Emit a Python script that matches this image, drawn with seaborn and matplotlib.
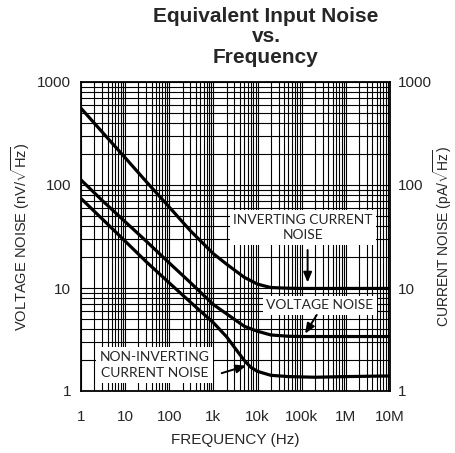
import matplotlib
matplotlib.use("Agg")
import matplotlib.pyplot as plt
from matplotlib.ticker import LogLocator, FixedLocator, NullFormatter
import seaborn as sns
import pandas as pd

# Datos
freq_inv = [1, 3, 10, 30, 100, 300, 1000, 2000, 5000, 10000, 20000, 50000, 1e5, 1e6, 1e7]
ruido_inv = [556, 328, 184, 108, 61, 36, 21.5, 17, 12.7, 10.9, 10.1, 9.95, 9.9, 9.9, 9.9]

freq_volt = [1, 3, 10, 30, 100, 300, 1000, 2000, 5000, 10000, 20000, 50000, 1e5, 1e6, 1e7]
ruido_volt = [112, 71, 44, 28.5, 17.5, 11.3, 6.9, 5.6, 4.25, 3.8, 3.5, 3.4, 3.38, 3.38, 3.38]

freq_noinv = [1, 3, 10, 30, 100, 300, 1000, 2000, 3000, 5000, 7000, 10000, 20000, 50000, 1e5, 2e5, 1e6, 1e7]
ruido_noinv = [74, 47, 28.5, 18, 11.2, 7.3, 4.6, 3.35, 2.65, 1.98, 1.7, 1.55, 1.42, 1.38, 1.37, 1.36, 1.38, 1.40]

xticks = [1, 10, 100, 1e3, 1e4, 1e5, 1e6, 1e7]
xticklabels = ['1', '10', '100', '1k', '10k', '100k', '1M', '10M']
yticks = [1, 10, 100, 1000]
yticklabels = ['1', '10', '100', '1000']

sns.set_style('white')
plt.rcParams['font.family'] = ['Liberation Sans', 'DejaVu Sans']
plt.rcParams['mathtext.fontset'] = 'custom'
plt.rcParams['mathtext.rm'] = 'Liberation Sans'

fig = plt.figure(figsize=(4.56, 4.53), dpi=100)
ax = fig.add_axes([81/456, 1 - 391/453, 309/456, 309/453])
ax.set_xscale('log')
ax.set_yscale('log')

curvas = [(freq_inv, ruido_inv), (freq_volt, ruido_volt), (freq_noinv, ruido_noinv)]
for f, r in curvas:
    df = pd.DataFrame({'f': f, 'r': r})
    sns.lineplot(data=df, x='f', y='r', color='black', linewidth=2.3, ax=ax)

ax.set_xlim(1, 1e7)
ax.set_ylim(1, 1000)
ax.xaxis.set_major_locator(FixedLocator(xticks))
ax.set_xticklabels(xticklabels, fontsize=11)
ax.yaxis.set_major_locator(FixedLocator(yticks))
ax.set_yticklabels(yticklabels, fontsize=11)
ax.xaxis.set_minor_locator(LogLocator(base=10, subs=range(2, 10), numticks=30))
ax.yaxis.set_minor_locator(LogLocator(base=10, subs=range(2, 10), numticks=30))
ax.xaxis.set_minor_formatter(NullFormatter())
ax.yaxis.set_minor_formatter(NullFormatter())
ax.tick_params(which='both', length=0)
ax.tick_params(axis='x', pad=14)
ax.tick_params(axis='y', pad=7)
ax.grid(which='both', color='black', linewidth=0.8)
ax.set_axisbelow(True)
for s in ax.spines.values():
    s.set_color('black')
    s.set_linewidth(1.3)

ax.set_xlabel('FREQUENCY (Hz)', fontsize=11, labelpad=6)
ax.set_ylabel(r'VOLTAGE NOISE (nV/$\sqrt{\mathrm{Hz}}$)', fontsize=10.5, labelpad=4)

ax2 = ax.twinx()
ax2.set_yscale('log')
ax2.set_ylim(1, 1000)
ax2.yaxis.set_major_locator(FixedLocator(yticks))
ax2.set_yticklabels(yticklabels, fontsize=11)
ax2.yaxis.set_minor_formatter(NullFormatter())
ax2.tick_params(which='both', length=0, pad=6)
ax2.grid(False)
ax2.set_ylabel(r'CURRENT NOISE (pA/$\sqrt{\mathrm{Hz}}$)', fontsize=10, labelpad=-1)
for s in ax2.spines.values():
    s.set_visible(False)

# Cajas de texto
caja = dict(facecolor='white', edgecolor='none', pad=2.5)
fuente = ['Lato', 'DejaVu Sans']
ax.text(0.718, 0.529, 'INVERTING CURRENT\nNOISE', transform=ax.transAxes, ha='center', va='center',
        fontsize=10, family=fuente, linespacing=1.35, bbox=caja, zorder=5)
ax.text(0.773, 0.278, 'VOLTAGE NOISE', transform=ax.transAxes, ha='center', va='center',
        fontsize=10, family=fuente, bbox=caja, zorder=5)
ax.text(0.239, 0.084, 'NON-INVERTING\nCURRENT NOISE', transform=ax.transAxes, ha='center', va='center',
        fontsize=10, family=fuente, linespacing=1.45, bbox=caja, zorder=5)

flecha = dict(arrowstyle='-|>,head_length=0.6,head_width=0.25', color='black', lw=1.4, shrinkA=0, shrinkB=0)
ax.annotate('', xy=(1.36e5, 11.3), xytext=(1.36e5, 23.4), arrowprops=flecha, zorder=6)
ax.annotate('', xy=(1.19e5, 3.6), xytext=(2.19e5, 5.47), arrowprops=flecha, zorder=6)
ax.annotate('', xy=(5.5e3, 1.76), xytext=(1.54e3, 1.49), arrowprops=flecha, zorder=6)

fig.suptitle('Equivalent Input Noise\nvs.\nFrequency', fontsize=15, fontweight='bold',
             x=266/456, y=0.985, va='top', linespacing=1.1)

fig.savefig('out.png', dpi=100)
